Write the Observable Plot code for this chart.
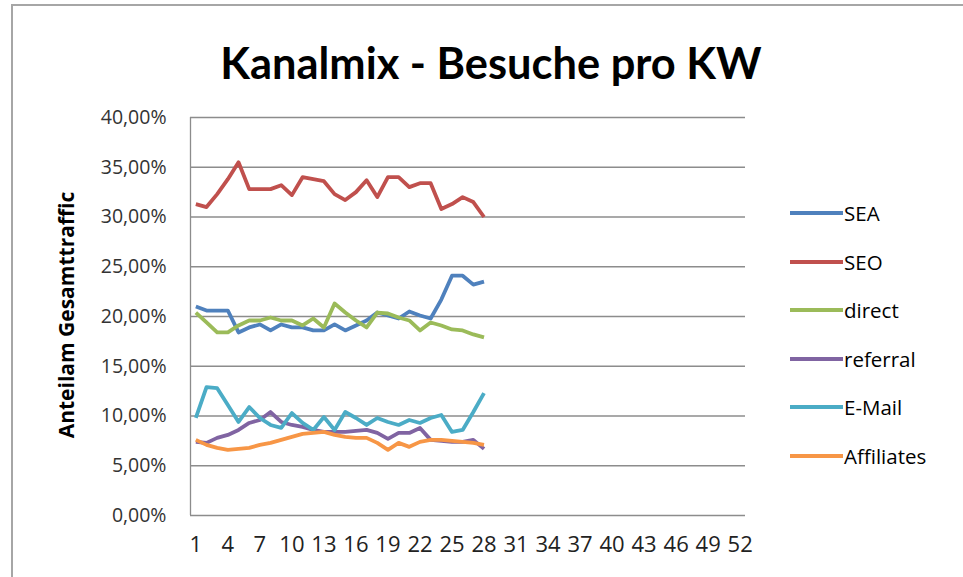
<!DOCTYPE html>
<html>
<head>
<meta charset="utf-8">
<script src="https://cdn.jsdelivr.net/npm/d3@7"></script>
<script src="https://cdn.jsdelivr.net/npm/@observablehq/plot@0.6"></script>
<style>
  body { margin: 0; background: #fff; font-family: "Open Sans", Lato, sans-serif; }
  #wrap { position: relative; width: 963px; height: 577px; overflow: hidden; }
  #frame { position: absolute; left: 11px; top: 4px; width: 1000px; height: 700px; border: 2px solid #a6a6a6; box-sizing: border-box; }
  #chart { position: absolute; left: 0; top: 0; }
  #title { position: absolute; left: 0; width: 982px; top: 36px; text-align: center; font-family: Lato, sans-serif; font-weight: bold; font-size: 36px; color: #000; white-space: nowrap; }
  #ylab { position: absolute; left: 66px; top: 315px; transform: translate(-50%, -50%) rotate(-90deg); font-weight: bold; font-size: 19px; white-space: nowrap; color: #000; }
  .leg { position: absolute; left: 790px; height: 24px; display: flex; align-items: center; font-size: 20.5px; color: #000; }
  .leg span.sw { display: inline-block; width: 53px; height: 4px; margin-right: 1px; }
</style>
</head>
<body>
<div id="wrap">
  <div id="chart"></div>
  <div id="frame"></div>
  <div id="title">Kanalmix - Besuche pro KW</div>
  <div id="ylab">Anteilam Gesamttraffic</div>
  <div id="legend"></div>
</div>
<script>
const weeks = d3.range(1, 29);
const xTicks = [1, 4, 7, 10, 13, 16, 19, 22, 25, 28, 31, 34, 37, 40, 43, 46, 49, 52];
const yTicks = [0, 0.05, 0.10, 0.15, 0.20, 0.25, 0.30, 0.35, 0.40];
const seriesNames = ["SEA", "SEO", "direct", "referral", "E-Mail", "Affiliates"];
const seriesColors = ["#4F81BD", "#C0504D", "#9BBB59", "#8064A2", "#4BACC6", "#F79646"];

const SEA = [21.0, 20.6, 20.6, 20.6, 18.4, 18.9, 19.2, 18.6, 19.2, 18.9, 18.9, 18.6, 18.6, 19.2, 18.6, 19.1, 19.6, 20.4, 20.1, 19.8, 20.5, 20.1, 19.8, 21.7, 24.1, 24.1, 23.2, 23.5];
const SEO = [31.3, 31.0, 32.3, 33.8, 35.5, 32.8, 32.8, 32.8, 33.2, 32.2, 34.0, 33.8, 33.6, 32.3, 31.7, 32.5, 33.7, 32.0, 34.0, 34.0, 33.0, 33.4, 33.4, 30.8, 31.3, 32.0, 31.5, 30.0];
const direct = [20.4, 19.4, 18.4, 18.4, 19.1, 19.6, 19.6, 19.9, 19.6, 19.6, 19.1, 19.8, 18.9, 21.3, 20.4, 19.6, 18.9, 20.4, 20.3, 19.9, 19.6, 18.6, 19.4, 19.1, 18.7, 18.6, 18.2, 17.9];
const referral = [7.4, 7.3, 7.8, 8.1, 8.6, 9.3, 9.6, 10.4, 9.4, 9.1, 8.9, 8.6, 8.4, 8.4, 8.4, 8.5, 8.6, 8.3, 7.7, 8.3, 8.3, 8.8, 7.6, 7.5, 7.4, 7.4, 7.6, 6.7];
const email = [9.8, 12.9, 12.8, 11.1, 9.4, 10.9, 9.8, 9.1, 8.8, 10.3, 9.3, 8.6, 9.9, 8.6, 10.4, 9.8, 9.1, 9.8, 9.4, 9.1, 9.6, 9.3, 9.8, 10.1, 8.4, 8.6, 10.4, 12.3];
const affiliates = [7.6, 7.1, 6.8, 6.6, 6.7, 6.8, 7.1, 7.3, 7.6, 7.9, 8.2, 8.3, 8.4, 8.1, 7.9, 7.8, 7.8, 7.3, 6.6, 7.3, 6.9, 7.4, 7.6, 7.6, 7.5, 7.4, 7.3, 7.1];

const seriesValues = [SEA, SEO, direct, referral, email, affiliates];
const rows = [];
seriesNames.forEach((name, i) => {
  seriesValues[i].forEach((v, j) => rows.push({ series: name, week: weeks[j], value: v / 100 }));
});

const fmt = d => (d * 100).toFixed(2).replace(".", ",") + "%";

const chart = Plot.plot({
  width: 963,
  height: 577,
  marginLeft: 190,
  marginRight: 218,
  marginTop: 117,
  marginBottom: 62,
  style: { fontFamily: "'Open Sans', Lato, sans-serif", fontSize: "20px", color: "#222", background: "transparent" },
  x: { domain: [0.5, 52.5], label: null, axis: null },
  y: { domain: [0, 0.4], label: null },
  color: { domain: seriesNames, range: seriesColors },
  marks: [
    Plot.ruleY(yTicks, { stroke: "#8c8c8c", strokeWidth: 1.3 }),
    Plot.ruleX([0.5], { y1: 0, y2: 0.4, stroke: "#8c8c8c", strokeWidth: 1.3 }),
    Plot.text(xTicks, { x: d => d, frameAnchor: "bottom", dy: 36, text: d => String(d), fontSize: 22, fill: "#222" }),
    Plot.axisY({ ticks: yTicks, tickFormat: fmt, tickSize: 0, tickPadding: 24, fontSize: 19.5, fill: "#333" }),
    Plot.line(rows, { x: "week", y: "value", z: "series", stroke: "series", strokeWidth: 3.8, strokeLinejoin: "round", strokeLinecap: "butt" })
  ]
});
document.getElementById("chart").appendChild(chart);

const legend = document.getElementById("legend");
const legY = [213, 262, 310, 359, 407, 456];
seriesNames.forEach((name, i) => {
  const d = document.createElement("div");
  d.className = "leg";
  d.style.top = (legY[i] - 12) + "px";
  d.innerHTML = `<span class="sw" style="background:${seriesColors[i]}"></span><span>${name}</span>`;
  legend.appendChild(d);
});

// fit texts to reference widths
const c = document.createElement("canvas").getContext("2d");
const t = document.getElementById("title");
c.font = "bold 36px Lato";
t.style.fontSize = (36 * 542 / c.measureText(t.textContent).width).toFixed(1) + "px";
const yl = document.getElementById("ylab");
c.font = "bold 19px 'Open Sans'";
yl.style.fontSize = Math.min(21, 19 * 256 / c.measureText(yl.textContent).width).toFixed(1) + "px";
</script>
</body>
</html>
